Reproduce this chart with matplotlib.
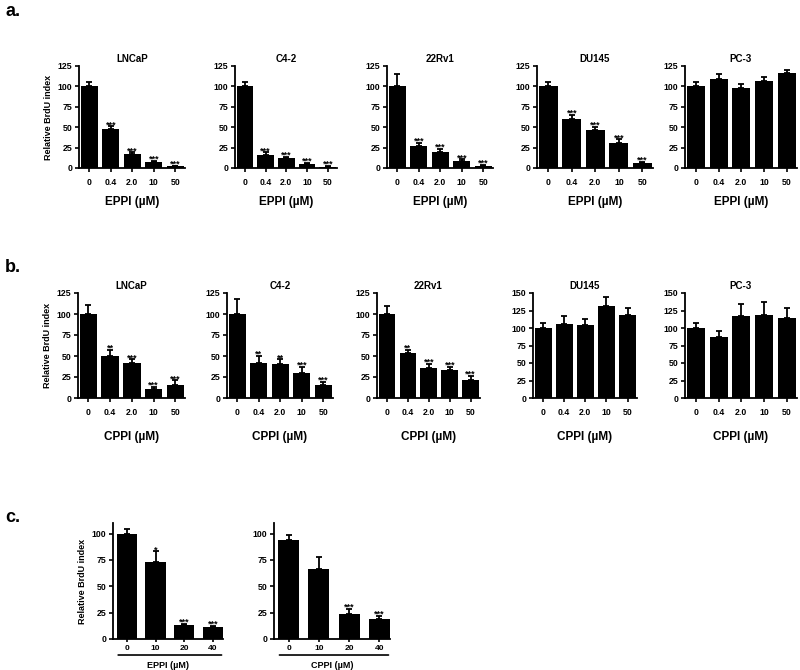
import matplotlib
matplotlib.use("Agg")
import matplotlib.pyplot as plt
import numpy as np

plt.rcParams['font.family'] = ['Liberation Sans', 'DejaVu Sans']
plt.rcParams['font.weight'] = 'bold'

doses_ab = ["0", "0.4", "2.0", "10", "50"]
doses_c = ["0", "10", "20", "40"]
cells = ["LNCaP", "C4-2", "22Rv1", "DU145", "PC-3"]

# row a: EPPI
eppi_vals = {
    "LNCaP": [100, 48, 17, 7, 2],
    "C4-2": [100, 16, 12, 4.5, 1.5],
    "22Rv1": [100, 27, 20, 8, 2.5],
    "DU145": [100, 60, 46, 31, 6],
    "PC-3": [100, 109, 98, 107, 116],
}
eppi_errs = {
    "LNCaP": [6, 3, 2, 1.5, 1],
    "C4-2": [6, 3, 2, 2, 1],
    "22Rv1": [15, 4, 3, 2.5, 1.5],
    "DU145": [6, 5, 4, 4, 1.5],
    "PC-3": [5, 6, 5, 5, 4],
}
eppi_stars = {
    "LNCaP": ["", "***", "***", "***", "***"],
    "C4-2": ["", "***", "***", "***", "***"],
    "22Rv1": ["", "***", "***", "***", "***"],
    "DU145": ["", "***", "***", "***", "***"],
    "PC-3": ["", "", "", "", ""],
}

# row b: CPPI
cppi_vals = {
    "LNCaP": [100, 50, 42, 10.5, 16],
    "C4-2": [100, 42, 40, 30, 15],
    "22Rv1": [100, 53, 36, 33, 21],
    "DU145": [100, 106, 105, 132, 118],
    "PC-3": [100, 87, 117, 118, 115],
}
cppi_errs = {
    "LNCaP": [11, 7, 4, 3, 5],
    "C4-2": [18, 8, 6, 7, 4],
    "22Rv1": [10, 4, 5, 4, 5],
    "DU145": [7, 11, 8, 12, 11],
    "PC-3": [7, 9, 17, 19, 13],
}
cppi_stars = {
    "LNCaP": ["", "**", "***", "***", "***"],
    "C4-2": ["", "**", "**", "***", "***"],
    "22Rv1": ["", "**", "***", "***", "***"],
    "DU145": ["", "", "", "", ""],
    "PC-3": ["", "", "", "", ""],
}

# row c
c_eppi_vals = [100, 73, 13, 11]
c_eppi_errs = [4, 10, 1.5, 1.5]
c_eppi_stars = ["", "*", "***", "***"]
c_cppi_vals = [94, 66, 23.5, 19]
c_cppi_errs = [5, 12, 5, 3]
c_cppi_stars = ["", "", "***", "***"]

fig = plt.figure(figsize=(8, 6.7), dpi=100)
W, H = 800.0, 670.0


def make_ax(x0, x1, ytop, ybot):
    return fig.add_axes([x0 / W, 1 - ybot / H, (x1 - x0) / W, (ybot - ytop) / H])


def panel(ax, labels, vals, errs, stars, ymax, yticks, width=0.8, xlim=None, title=None,
          ylabel=False, xlabel=None, xlab_y=-0.33, xlab_size=8.5):
    x = np.arange(len(labels))
    ax.bar(x, vals, width=width, color="black", zorder=2)
    ax.errorbar(x, vals, yerr=[np.zeros(len(vals)), errs], fmt="none", ecolor="black",
                elinewidth=1.3, capsize=2.5, capthick=1.3, zorder=1)
    for xi, v, e, s in zip(x, vals, errs, stars):
        if s:
            ax.annotate(s, (xi, v + e), xytext=(0, -2), textcoords="offset points",
                        ha="center", va="bottom", fontsize=6.5, fontweight="bold")
    ax.set_ylim(0, ymax)
    ax.set_yticks(yticks)
    ax.set_xticks(x)
    ax.set_xticklabels(labels)
    if xlim is not None:
        ax.set_xlim(*xlim)
    for sp in ["top", "right"]:
        ax.spines[sp].set_visible(False)
    for sp in ["left", "bottom"]:
        ax.spines[sp].set_linewidth(1.3)
    ax.tick_params(axis="both", labelsize=6.3, width=1.2, length=3, pad=2)
    ax.tick_params(axis="x", pad=4)
    if title:
        ax.set_title(title, fontsize=7, fontweight="bold", pad=3)
    if ylabel:
        ax.set_ylabel("Relative BrdU index", fontsize=6.5, fontweight="bold", labelpad=3)
    if xlabel:
        ax.set_xlabel(xlabel, fontsize=xlab_size, fontweight="bold")
        ax.xaxis.set_label_coords(0.5, xlab_y)
        ax.xaxis.label.set_va("center")


# row a
a_x = [(79, 185), (235, 337), (387, 493), (537, 653), (685, 797)]
for i, cell in enumerate(cells):
    ax = make_ax(a_x[i][0], a_x[i][1], 66, 168)
    panel(ax, doses_ab, eppi_vals[cell], eppi_errs[cell], eppi_stars[cell], 125,
          [0, 25, 50, 75, 100, 125], xlim=(-0.48, 4.45), title=cell,
          ylabel=(i == 0), xlabel="EPPI (µM)", xlab_y=-(202 - 168) / 102)

# row b
b_x = [(78, 185), (227, 333), (377, 480), (533, 637), (685, 797)]
for i, cell in enumerate(cells):
    ax = make_ax(b_x[i][0], b_x[i][1], 293, 398)
    if cell in ("DU145", "PC-3"):
        ymax, yt = 150, [0, 25, 50, 75, 100, 125, 150]
    else:
        ymax, yt = 125, [0, 25, 50, 75, 100, 125]
    panel(ax, doses_ab, cppi_vals[cell], cppi_errs[cell], cppi_stars[cell], ymax, yt,
          xlim=(-0.48, 4.45), title=cell, ylabel=(i == 0), xlabel="CPPI (µM)",
          xlab_y=-(437 - 398) / 105)

# row c
c_specs = [((113, 223), c_eppi_vals, c_eppi_errs, c_eppi_stars, "EPPI (µM)"),
           ((274, 390), c_cppi_vals, c_cppi_errs, c_cppi_stars, "CPPI (µM)")]
for i, (xr, v, e, s, lab) in enumerate(c_specs):
    ax = make_ax(xr[0], xr[1], 523, 639)
    panel(ax, doses_c, v, e, s, 110, [0, 25, 50, 75, 100], width=0.7,
          xlim=(-0.48, 3.35), ylabel=(i == 0), xlabel=lab,
          xlab_y=-(665 - 639) / 116, xlab_size=6.5)
    ax.tick_params(axis="x", length=2, pad=2, labelsize=6)
    ax.annotate("", xy=(3.3, -0.138), xytext=(-0.3, -0.138),
                xycoords=("data", "axes fraction"), textcoords=("data", "axes fraction"),
                arrowprops=dict(arrowstyle="-", lw=1.2, color="black",
                                shrinkA=0, shrinkB=0))

for lab, y in [("a.", 12), ("b.", 267), ("c.", 517)]:
    fig.text(5 / W, 1 - y / H, lab, fontsize=13, fontweight="bold", va="center")

fig.savefig("out.png", dpi=100)
